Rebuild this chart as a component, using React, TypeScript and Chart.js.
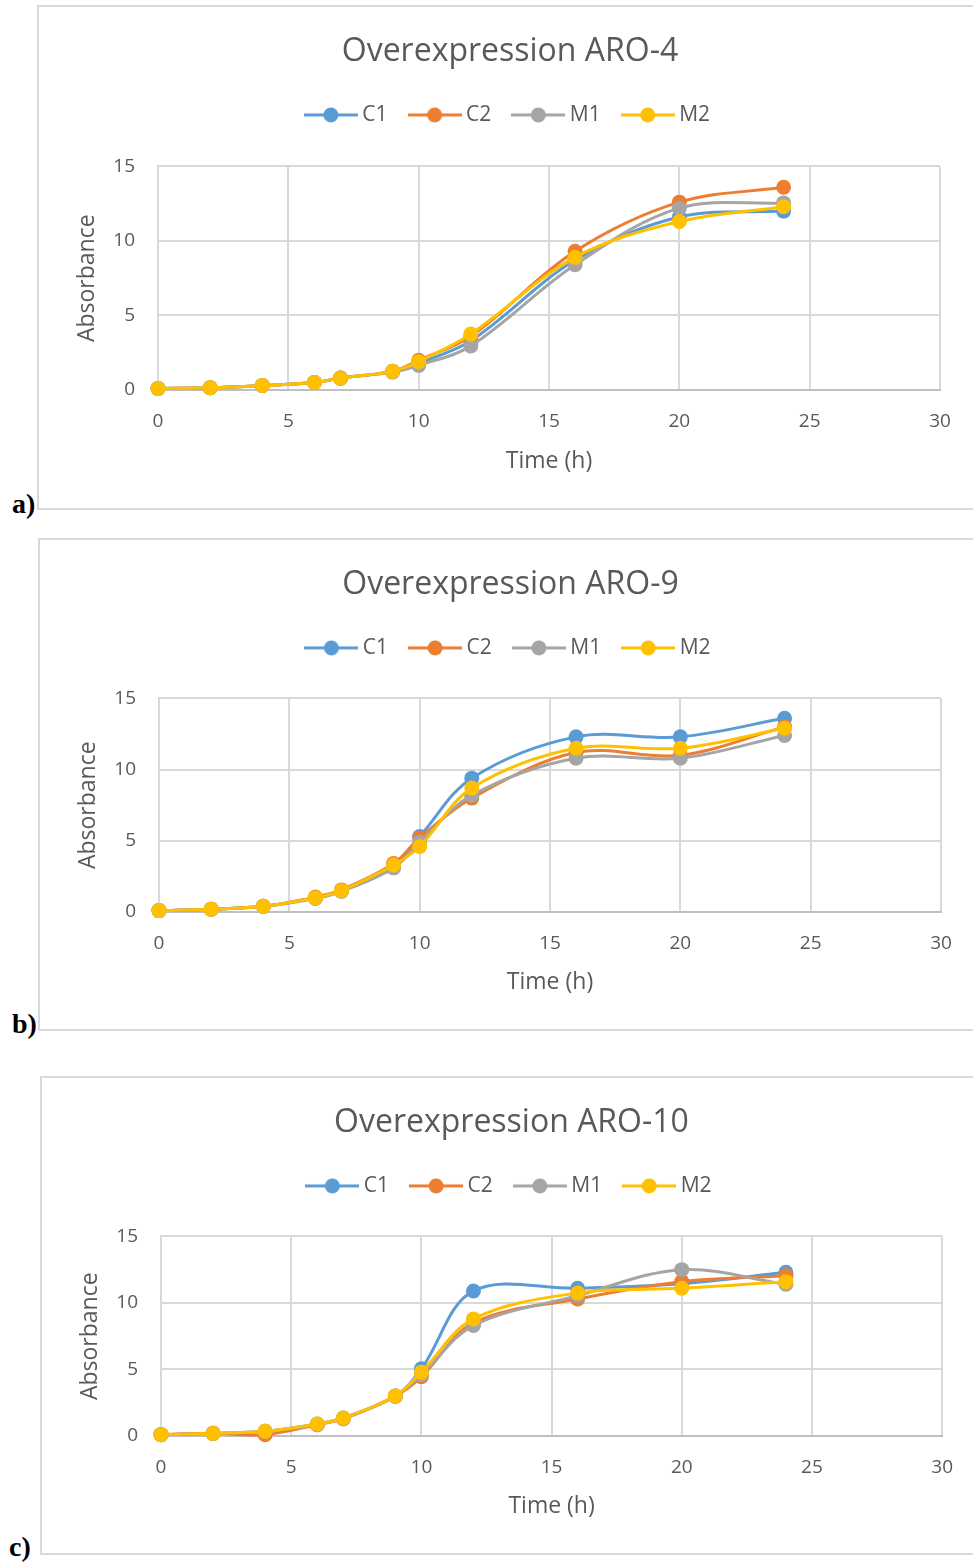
import React, { useEffect, useRef } from "react";
import { Chart, registerables } from "chart.js";

Chart.register(...registerables);

// ---------- data ----------
const timeHours = [0, 2, 4, 6, 7, 9, 10, 12, 16, 20, 24];
const seriesNames = ["C1", "C2", "M1", "M2"];
const seriesColors = ["#5B9BD5", "#ED7D31", "#A5A5A5", "#FFC000"];
const xAxisTicks = [0, 5, 10, 15, 20, 25, 30];
const yAxisTicks = [0, 5, 10, 15];

const aro4C1 = [0.1, 0.15, 0.3, 0.5, 0.8, 1.25, 1.8, 3.3, 8.7, 11.6, 12.0];
const aro4C2 = [0.1, 0.15, 0.3, 0.5, 0.8, 1.25, 2.0, 3.6, 9.3, 12.6, 13.6];
const aro4M1 = [0.1, 0.15, 0.3, 0.5, 0.8, 1.2, 1.65, 2.95, 8.4, 12.2, 12.55];
const aro4M2 = [0.1, 0.15, 0.3, 0.5, 0.8, 1.25, 1.9, 3.75, 8.9, 11.3, 12.3];

const aro9C1 = [0.1, 0.2, 0.4, 1.0, 1.5, 3.3, 5.3, 9.4, 12.3, 12.3, 13.6];
const aro9C2 = [0.1, 0.2, 0.4, 1.05, 1.55, 3.4, 5.2, 8.0, 11.2, 11.0, 13.0];
const aro9M1 = [0.1, 0.2, 0.4, 0.95, 1.45, 3.1, 4.9, 8.2, 10.8, 10.8, 12.4];
const aro9M2 = [0.1, 0.2, 0.4, 1.0, 1.5, 3.3, 4.6, 8.7, 11.5, 11.5, 12.9];

const aro10C1 = [0.1, 0.2, 0.35, 0.9, 1.35, 3.0, 5.05, 10.9, 11.1, 11.45, 12.3];
const aro10C2 = [0.1, 0.2, 0.1, 0.85, 1.3, 3.0, 4.45, 8.5, 10.3, 11.6, 12.05];
const aro10M1 = [0.1, 0.2, 0.35, 0.85, 1.3, 3.0, 4.6, 8.3, 10.55, 12.5, 11.4];
const aro10M2 = [0.1, 0.2, 0.35, 0.9, 1.35, 3.0, 4.8, 8.8, 10.75, 11.1, 11.6];

const FONT = "'Open Sans', sans-serif";
const TEXT = "#595959";

function makeLegendIcon(color: string) {
  const c = document.createElement("canvas");
  c.width = 54;
  c.height = 16;
  const ctx = c.getContext("2d")!;
  ctx.strokeStyle = color;
  ctx.lineWidth = 3;
  ctx.beginPath();
  ctx.moveTo(0, 8);
  ctx.lineTo(54, 8);
  ctx.stroke();
  ctx.fillStyle = color;
  ctx.beginPath();
  ctx.arc(27, 8, 7.5, 0, Math.PI * 2);
  ctx.fill();
  return c;
}

type PanelProps = {
  title: string;
  series: number[][];
  left: number;
  top: number;
  height: number; // outer height including borders
  spacer: number;
  xHeight: number;
  label: string;
  labelLeft: number;
  labelTop: number;
};

const PAD_LEFT = 8;
const PLOT_LEFT = 119;
const PLOT_RIGHT = 901;

function Panel(p: PanelProps) {
  const ref = useRef<HTMLCanvasElement | null>(null);
  const innerW = 973 - p.left - 2;
  const innerH = p.height - 4;

  useEffect(() => {
    const canvas = ref.current;
    if (!canvas) return;
    const icons = seriesColors.map(makeLegendIcon);
    const chart = new Chart(canvas, {
      type: "line",
      data: {
        datasets: seriesNames.map((name, i) => ({
          label: name,
          data: timeHours.map((t, k) => ({ x: t, y: p.series[i][k] })),
          xAxisID: "x",
          yAxisID: "y",
          borderColor: seriesColors[i],
          backgroundColor: seriesColors[i],
          pointBackgroundColor: seriesColors[i],
          pointBorderWidth: 0,
          pointRadius: 7.5,
          borderWidth: 3,
          tension: 0.35,
          clip: false as any,
          order: seriesNames.length - i,
        })),
      },
      options: {
        animation: false,
        responsive: false,
        events: [],
        layout: { padding: { left: PAD_LEFT, top: 0, bottom: 0, right: 0 } },
        plugins: {
          tooltip: { enabled: false },
          title: {
            display: true,
            text: p.title,
            color: TEXT,
            font: { family: FONT, size: 32, weight: "normal" },
            padding: { top: 26, bottom: 7 },
          },
          legend: {
            display: true,
            position: "top",
            labels: {
              usePointStyle: true,
              pointStyleWidth: 42,
              padding: 26,
              color: TEXT,
              font: { family: FONT, size: 21 },
              generateLabels: (ch: any) =>
                ch.data.datasets.map((ds: any, i: number) => ({
                  text: ds.label,
                  fillStyle: ds.borderColor,
                  strokeStyle: ds.borderColor,
                  lineWidth: 0,
                  pointStyle: icons[i],
                  hidden: false,
                  datasetIndex: i,
                  fontColor: TEXT,
                })),
            },
          },
        },
        scales: {
          x: {
            type: "linear",
            position: "bottom",
            min: xAxisTicks[0],
            max: xAxisTicks[xAxisTicks.length - 1],
            afterBuildTicks: (s: any) => {
              s.ticks = xAxisTicks.map((v) => ({ value: v }));
            },
            afterFit: (s: any) => {
              s.height = p.xHeight;
            },
            grid: { color: "#d9d9d9", lineWidth: 2, drawTicks: false },
            border: { color: "#bfbfbf", width: 2 },
            ticks: { color: TEXT, font: { family: FONT, size: 19 }, padding: 20, autoSkip: false },
            title: {
              display: true,
              text: "Time (h)",
              color: TEXT,
              font: { family: FONT, size: 23 },
              padding: { top: 0, bottom: 33 },
            },
          },
          y: {
            type: "linear",
            position: "left",
            min: yAxisTicks[0],
            max: yAxisTicks[yAxisTicks.length - 1],
            afterBuildTicks: (s: any) => {
              s.ticks = yAxisTicks.map((v) => ({ value: v }));
            },
            afterFit: (s: any) => {
              s.width = PLOT_LEFT - PAD_LEFT;
            },
            grid: { color: "#d9d9d9", lineWidth: 2, drawTicks: false },
            border: { color: "#d9d9d9", width: 2 },
            ticks: { color: TEXT, font: { family: FONT, size: 19 }, padding: 23 },
            title: {
              display: true,
              text: "Absorbance",
              color: TEXT,
              font: { family: FONT, size: 23 },
              padding: { top: 35 - PAD_LEFT, bottom: 0 },
            },
          },
          xTop: {
            type: "linear",
            position: "top",
            display: true,
            grid: { display: false },
            border: { display: false },
            ticks: { display: false },
            afterFit: (s: any) => {
              s.height = p.spacer;
            },
          },
          yRight: {
            type: "linear",
            position: "right",
            display: true,
            grid: { display: false },
            border: { display: false },
            ticks: { display: false },
            afterFit: (s: any) => {
              s.width = innerW - PLOT_RIGHT;
            },
          },
        },
      } as any,
    });
    return () => chart.destroy();
  }, []);

  return (
    <>
      <div
        style={{
          position: "absolute",
          left: p.left,
          top: p.top,
          width: innerW,
          height: innerH,
          borderLeft: "2px solid #d9d9d9",
          borderTop: "2px solid #d9d9d9",
          borderBottom: "2px solid #d9d9d9",
          background: "#fff",
        }}
      >
        <canvas ref={ref} width={innerW} height={innerH} style={{ display: "block", width: innerW, height: innerH }} />
      </div>
      <div
        style={{
          position: "absolute",
          left: p.labelLeft,
          top: p.labelTop,
          fontFamily: "'Liberation Serif', 'Times New Roman', serif",
          fontWeight: "bold",
          fontSize: 28,
          lineHeight: "28px",
          color: "#000",
        }}
      >
        {p.label}
      </div>
    </>
  );
}

export default function App() {
  return (
    <div style={{ position: "absolute", left: 0, top: 0, width: 973, height: 1562, overflow: "hidden", background: "#fff" }}>
      <Panel
        title="Overexpression ARO-4"
        series={[aro4C1, aro4C2, aro4M1, aro4M2]}
        left={37}
        top={5}
        height={505}
        spacer={31}
        xHeight={118}
        label="a)"
        labelLeft={12}
        labelTop={490}
      />
      <Panel
        title="Overexpression ARO-9"
        series={[aro9C1, aro9C2, aro9M1, aro9M2]}
        left={38}
        top={538}
        height={493}
        spacer={30}
        xHeight={117}
        label="b)"
        labelLeft={12}
        labelTop={1010}
      />
      <Panel
        title="Overexpression ARO-10"
        series={[aro10C1, aro10C2, aro10M1, aro10M2]}
        left={40}
        top={1076}
        height={479}
        spacer={30}
        xHeight={117}
        label="c)"
        labelLeft={9}
        labelTop={1533}
      />
    </div>
  );
}
